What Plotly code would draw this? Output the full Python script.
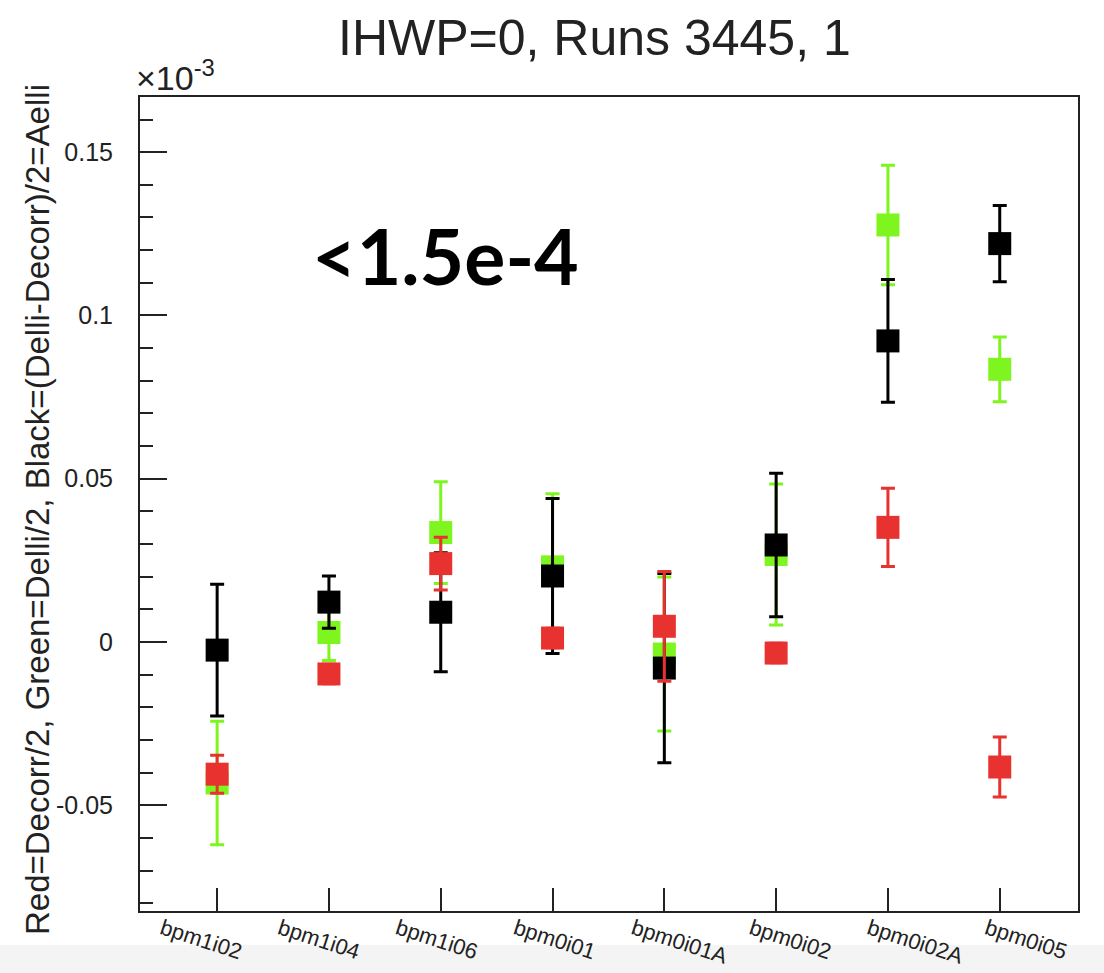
import plotly.graph_objects as go

# BPM channels along the x axis
bpms = ["bpm1i02", "bpm1i04", "bpm1i06", "bpm0i01", "bpm0i01A", "bpm0i02", "bpm0i02A", "bpm0i05"]

# Values in units of 1e-3
green_val = [-0.0432, 0.0029, 0.0335, 0.0230, -0.0037, 0.0268, 0.1277, 0.0835]
green_err = [0.0189, 0.0086, 0.0156, 0.0224, 0.0236, 0.0216, 0.0183, 0.0099]

black_val = [-0.0025, 0.0122, 0.0091, 0.0202, -0.0080, 0.0297, 0.0922, 0.1220]
black_err = [0.0202, 0.0080, 0.0182, 0.0237, 0.0290, 0.0220, 0.0188, 0.0117]

red_val = [-0.0405, -0.0098, 0.0240, 0.0012, 0.0048, -0.0034, 0.0351, -0.0383]
red_err = [0.0058, 0.0030, 0.0081, 0.0030, 0.0168, 0.0030, 0.0120, 0.0092]

y_ticks = [-0.05, 0, 0.05, 0.1, 0.15]
y_tick_text = ["-0.05", "0", "0.05", "0.1", "0.15"]

GREEN = "#7ef51e"
RED = "#e8322f"
BLACK = "#000000"
FRAME = "#222"
FONT = "Liberation Sans, Arial, sans-serif"

fig = go.Figure()

for vals, errs, col in [(green_val, green_err, GREEN),
                        (black_val, black_err, BLACK),
                        (red_val, red_err, RED)]:
    fig.add_trace(go.Scatter(
        x=bpms, y=vals, mode="markers",
        marker=dict(symbol="square", size=23, color=col, line=dict(width=0)),
        error_y=dict(type="data", array=errs, visible=True,
                     color=col, thickness=3, width=7),
        showlegend=False,
    ))

# invisible companion trace so the label axis (x2) gets drawn
fig.add_trace(go.Scatter(
    x=list(range(len(bpms))), y=black_val, xaxis="x2", yaxis="y",
    mode="markers", marker=dict(opacity=0), hoverinfo="skip", showlegend=False,
))

fig.update_layout(
    width=1104, height=973,
    margin=dict(l=140, r=26, t=97, b=62, autoexpand=False),
    paper_bgcolor="white", plot_bgcolor="white",
    showlegend=False,
    # tick marks at each channel
    xaxis=dict(
        type="category", range=[-0.69, 7.70], automargin=False,
        tickmode="array", tickvals=bpms, showticklabels=False,
        ticks="inside", ticklen=23, tickwidth=2, tickcolor=FRAME,
        showline=True, linewidth=2, linecolor=FRAME, mirror=True,
        showgrid=False, zeroline=False,
    ),
    # channel names, laid out on their own slightly wider spacing
    xaxis2=dict(
        overlaying="x", anchor="y", side="bottom", type="linear",
        range=[-0.187, 7.772], automargin=False,
        tickmode="array", tickvals=list(range(len(bpms))), ticktext=bpms,
        tickangle=18, tickfont=dict(size=22, family=FONT, color=FRAME),
        ticks="", showline=False, showgrid=False, zeroline=False,
    ),
    yaxis=dict(
        range=[-0.0824, 0.1669], automargin=False,
        tickmode="array", tickvals=y_ticks, ticktext=y_tick_text,
        tickfont=dict(size=25, family=FONT, color=FRAME),
        ticks="inside", ticklen=27, tickwidth=2, tickcolor=FRAME,
        ticklabelstandoff=20,
        minor=dict(dtick=0.01, ticks="inside", ticklen=13, tickwidth=2,
                   tickcolor=FRAME, showgrid=False),
        showline=True, linewidth=2, linecolor=FRAME, mirror=True,
        showgrid=False, zeroline=False,
    ),
)

# light grey strip along the bottom edge
fig.add_shape(type="rect", xref="paper", yref="paper",
              x0=-0.2, x1=1.1, y0=-0.0762, y1=-0.0418,
              fillcolor="#f4f4f4", line=dict(width=0), layer="below")

# title
fig.add_annotation(text="IHWP=0, Runs 3445, 1", xref="paper", yref="paper",
                   x=0.485, y=1.0725, xanchor="center", yanchor="middle",
                   showarrow=False,
                   font=dict(family=FONT, size=50, color=FRAME))

# axis exponent marker
fig.add_annotation(text="×10<sup>-3</sup>", xref="paper", yref="paper",
                   x=-0.006, y=0.998, xanchor="left", yanchor="bottom",
                   showarrow=False,
                   font=dict(family=FONT, size=34, color=FRAME))

# y axis title
fig.add_annotation(text="Red=Decorr/2, Green=Delli/2, Black=(Delli-Decorr)/2=Aelli",
                   xref="paper", yref="paper", x=-0.1098, y=0.4926,
                   xanchor="center", yanchor="middle", textangle=-90,
                   showarrow=False,
                   font=dict(family=FONT, size=33, color=FRAME))

# limit note
fig.add_annotation(text="<b><1.5e-4</b>", xref="paper", yref="paper",
                   x=(445 - 140) / 938, y=(911 - 255) / 814,
                   xanchor="center", yanchor="middle", showarrow=False,
                   font=dict(family="Lato, Open Sans, sans-serif", size=77, color="#000"))

fig.write_html("out.html")
